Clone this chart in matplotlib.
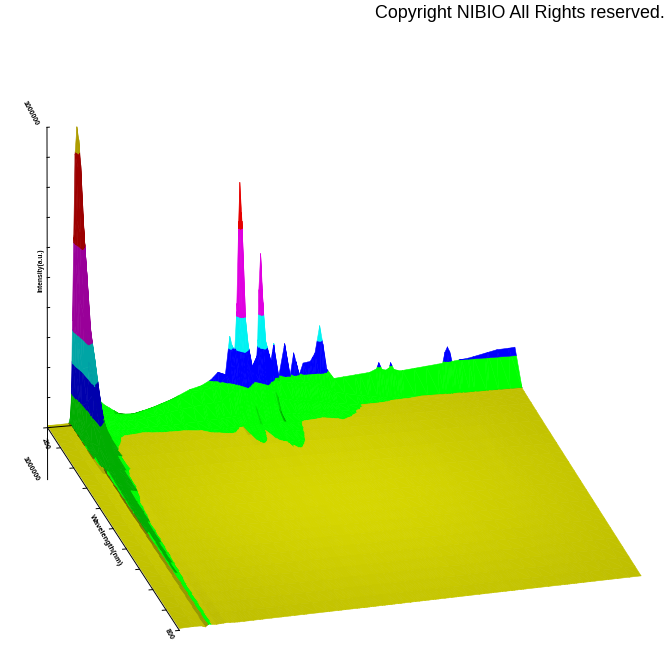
import numpy as np
import matplotlib
matplotlib.use("Agg")
import matplotlib.pyplot as plt
from mpl_toolkits.mplot3d.art3d import Poly3DCollection

Z_MAX = 300
BAND_LEVELS = [2.5, 33, 64, 96, 183, 273]
BAND_COLORS = [(1, 1, 0), (0, 1, 0), (0, 0, 1), (0, 0.95, 0.95), (0.88, 0, 0.88), (0.9, 0, 0), (1, 0.9, 0)]

# back row of the surface
WALL_EX = [0, .03, .045, .049, .051, .053, .059, .063, .067, .071, .075, .08, .095, .12, .16, .20, .24, .30,
           .325, .345, .36, .375, .385, .395, .3996, .404, .4065, .411, .4165, .421, .43, .44, .444, .4465,
           .4503, .454, .458, .465, .478, .487, .501, .512, .52, .532, .54, .555, .565, .575, .582, .59, .605,
           .68, .695, .70, .707, .715, .722, .725, .732, .745, .835, .84, .845, .85, .855, .87, .89, .95, 1]
WALL_Z = [2, 2.2, 2.4, 10, 38, 105, 271, 298, 285, 260, 190, 80, 30, 18, 5, 8, 13, 26,
          29, 34, 41, 35, 76, 57, 100, 190, 229, 190, 100, 66, 41, 35, 70, 120,
          156, 120, 68, 28, 65, 28, 64, 30, 54, 32, 43, 44, 52, 79, 60, 35, 25,
          28, 31, 37, 30, 29, 31, 36, 29, 27, 31, 42, 47, 42, 32, 33, 34, 40, 41]

# rows toward the viewer, near the wall
ROW_V = [.012, .03, .055, .09, .13, .18]
ROW_EX = [0, .03, .048, .056, .064, .075, .09, .11, .14, .18, .22, .27, .32, .36, .39, .41, .43, .455,
          .48, .52, .56, .60, .66, .72, .80, .86, .93, 1]
ROW1 = [2, 2.2, 2.4, 170, 270, 190, 35, 18, 10, 9, 14, 22, 26, 30, 50, 95, 45, 75, 30, 26, 26, 14, 8, 3, 2.4, 2.3, 2.2, 2]
ROW2 = [2, 2.2, 2.2, 90, 210, 160, 30, 14, 7, 6, 9, 13, 16, 18, 30, 55, 28, 45, 16, 12, 10, 6, 2.2, 2, 2, 2, 1.9, 1.8]
ROW3 = [2, 2.2, 2.1, 30, 130, 110, 25, 5, 3.4, 3, 3.5, 4, 5, 6, 7, 30, 10, 28, 6, 4, 3.2, 3.4, 2, 1.9, 1.9, 1.9, 1.8, 1.6]
ROW4 = [2, 2.2, 2, 14, 85, 85, 18, 3.2, 2.2, 2.1, 2.2, 2.1, 2.7, 3, 2.3, 8, 3, 6, 4, 2.2, 2.1, 2.6, 1.9, 1.9, 1.9, 1.8, 1.7, 1.6]
ROW5 = [2, 2.2, 2, 9, 65, 50, 10, 2.6, 2, 1.9, 2, 2, 2.1, 2.2, 2, 4, 2.2, 4, 3.5, 2, 1.9, 1.9, 1.8, 1.8, 1.8, 1.7, 1.6, 1.5]
ROW6 = [2, 2.2, 2, 6, 30, 20, 5, 2.3, 1.9, 1.8, 1.9, 1.8, 1.9, 1.9, 1.9, 2.4, 2, 2.4, 3, 1.8, 1.8, 1.7, 1.7, 1.7, 1.7, 1.6, 1.5, 1.4]

# rows further out, mostly flat
FLOOR_V = [.25, .40, .60, .80, 1.0]
FLOOR_EX = [0, .03, .048, .056, .064, .08, .10, .13, .2, .41, .43, .46, .5, .72, .74, .85, .87, 1]
FLOOR1 = [2, 2.2, 2, 1, 12, 6, 2.6, 1.8, 1.6, 2, 1.6, 2.4, 1.6, 1.5, 1.9, 1.5, 1.8, 1.4]
FLOOR2 = [2, 2.2, 2, .8, 7, 2.8, 1.8, 2, 1.7, 1.8, 1.7, 2, 1.7, 1.6, 1.8, 1.6, 1.9, 1.4]
FLOOR3 = [2, 2.2, 2, .6, 4, 2.2, 1.9, 1.6, 1.7, 1.7, 1.7, 1.7, 1.7, 1.6, 1.6, 1.6, 1.6, 1.4]
FLOOR4 = [2, 2.2, 2, .5, 2.9, 2, 2.2, 1.6, 1.7, 1.6, 1.6, 1.6, 1.6, 1.6, 1.6, 1.5, 1.5, 1.4]
FLOOR5 = [2, 2.2, 2, .5, 2.9, 1.8, 2.3, 1.6, 1.7, 1.6, 1.6, 1.6, 1.6, 1.6, 1.6, 1.5, 1.5, 1.4]

Z_TICKS = [0, 30, 60, 90, 120, 150, 180, 210, 240, 270, 300]
EM_TICKS = [0, .1, .2, .3, .4, .5, .6, .7, .8, .9, 1]
TEXT = "Copyright NIBIO All Rights reserved."

# extra mesh lines so the lighting on the flat part stays smooth
u = np.array(sorted(set(WALL_EX) | set(ROW_EX) | set(FLOOR_EX) | set(np.round(np.arange(.1, 1, .025), 3))), float)
v = np.array([0] + ROW_V + FLOOR_V, float)
Z = [np.interp(u, WALL_EX, WALL_Z)]
for r in [ROW1, ROW2, ROW3, ROW4, ROW5, ROW6]:
    Z.append(np.interp(u, ROW_EX, r))
for r in [FLOOR1, FLOOR2, FLOOR3, FLOOR4, FLOOR5]:
    Z.append(np.interp(u, FLOOR_EX, r))
Z = np.array(Z)
v2 = np.concatenate([v[:7], np.arange(.25, 1.001, .05)])
Z = np.array([np.interp(v2, v, Z[:, j]) for j in range(len(u))]).T
v = v2
U, V = np.meshgrid(u, v)
X = U * (1 - 0.013 * V)
Y = 1 - V + V * 0.064 * U
X[0, -1] = .988


def clip(poly, level, above):
    out = []
    for i in range(len(poly)):
        a, b = poly[i], poly[(i + 1) % len(poly)]
        ina = (a[2] >= level) == above
        inb = (b[2] >= level) == above
        if ina:
            out.append(a)
        if ina != inb:
            t = (level - a[2]) / (b[2] - a[2])
            out.append(a + t * (b - a))
    return out


LIGHT = np.array([.5, .55, .55])
scale = np.array([490, 490, 1.09])
facing = np.array([-.6, -1, .15])
polys, cols = [], []
for i in range(len(v) - 1):
    for j in range(len(u) - 1):
        p00 = np.array([X[i, j], Y[i, j], Z[i, j]])
        p01 = np.array([X[i, j + 1], Y[i, j + 1], Z[i, j + 1]])
        p10 = np.array([X[i + 1, j], Y[i + 1, j], Z[i + 1, j]])
        p11 = np.array([X[i + 1, j + 1], Y[i + 1, j + 1], Z[i + 1, j + 1]])
        n = np.cross((p11 - p00) * scale, (p10 - p01) * scale)
        n = n / (np.linalg.norm(n) + 1e-9)
        if n[2] < 0:
            n = -n
        c = (p00 + p01 + p10 + p11) / 4
        l = LIGHT - np.array([c[0], c[1], c[2] / Z_MAX * .56])
        l = l / np.linalg.norm(l)
        dot = max(n @ l, 0)
        for tri in ([p00, p01, p11], [p00, p11, p10]):
            lo = -1e9
            for b, hi in enumerate(BAND_LEVELS + [1e9]):
                pg = clip(clip(list(tri), lo, True), hi, False)
                lo = hi
                if len(pg) < 3:
                    continue
                if b == 0:
                    f = (0.59 + 0.25 * dot) * (0.45 + 0.55 * n[2])
                elif b == 1 and c[0] > .11:
                    f = max(min(1, 1 + 2 * (n @ facing)), 0.6)
                else:
                    f = 1
                # the tall left ridge sits in shadow
                if b > 0 and c[0] < .11 and c[2] > 3:
                    f = 0.68
                polys.append(np.array(pg))
                cols.append(np.array(BAND_COLORS[b]) * f)

fig = plt.figure(figsize=(6.72, 6.72), dpi=100)
ax = fig.add_subplot(projection='3d', computed_zorder=False)
ax.set_axis_off()
ax.set_xlim(0, 1, view_margin=0)
ax.set_ylim(0, 1, view_margin=0)
ax.set_zlim(0, Z_MAX, view_margin=0)
ax.view_init(20.8916, -103.3226, roll=0)
ax.set_proj_type('persp', focal_length=18.6015)
ax.set_box_aspect((0.8413, 1, 0.5552), zoom=1.1907)
ax.set_position([0.0085, -0.0463, 1, 1])

pc = Poly3DCollection(polys, facecolors=cols, edgecolors=cols, linewidths=0.4, zorder=1)
ax.add_collection3d(pc, autolim=False)

# axes lines and ticks
k = dict(color="k", lw=0.7, zorder=2)
ax.plot([0, 0], [1, 1], [-52, Z_MAX], **k)
ax.plot([0, 0], [1, 0], [0, 0], **k)
ax.plot([0, .05], [1, 1], [0, 0], **k)
for t in Z_TICKS:
    ax.plot([0, .005], [1, 1], [t, t], **k)
for t in EM_TICKS:
    ax.plot([0, -.008], [1 - t, 1 - t], [0, 0], **k)


def label(px, py, s, rot, size=5):
    fig.text(px / 672, 1 - py / 672, s, rotation=rot, rotation_mode="anchor", ha="center", va="center",
             family="Liberation Sans", fontweight="bold", fontsize=size)


label(30, 113, "1000000", -62)
label(41, 270, "Intensity(a.u.)", 90, 4.8)
label(45, 444, "200", -70)
label(31, 469, "1000000", -60)
label(106, 541, "Wavelength(nm)", -60, 5.4)
label(169, 634, "800", -60)

fig.text(665 / 672, 1 - 13 / 672, TEXT, family="Liberation Sans", fontsize=12.9, ha="right", va="center")
fig.savefig("out.png", dpi=100)
